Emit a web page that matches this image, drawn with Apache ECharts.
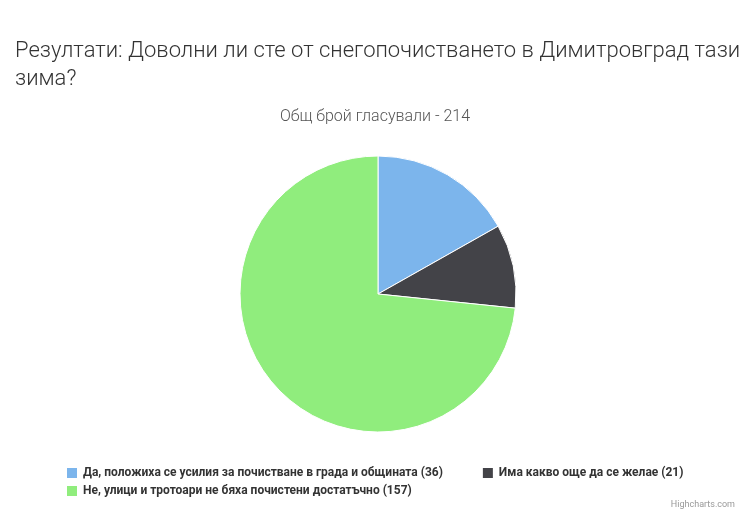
<!DOCTYPE html>
<html><head><meta charset="utf-8">
<script src="https://cdn.jsdelivr.net/npm/echarts@6/dist/echarts.min.js"></script>
<style>html,body{margin:0;padding:0;background:#fff}#c{width:750px;height:526px}</style>
</head><body><div id="c"></div>
<script>
const categories = ["Да, положиха се усилия за почистване в града и общината", "Има какво още да се желае", "Не, улици и тротоари не бяха почистени достатъчно"];
const values = [36, 21, 157];
const colors = ["#7cb5ec", "#434348", "#90ed7d"];
const chart = echarts.init(document.getElementById('c'));
const legendBase = {
  itemWidth: 12, itemHeight: 12, itemGap: 38, icon: 'rect',
  textStyle: {fontFamily: 'Roboto', fontWeight: 'bold', fontSize: 12, color: '#333'},
  formatter: function(n){ return n + ' (' + values[categories.indexOf(n)] + ')'; }
};
chart.setOption({
  animation: false,
  title: [
    {text: "Резултати: Доволни ли сте от снегопочистването в Димитровград тази\nзима?", left: 10, top: 32,
     textStyle: {fontFamily: 'Roboto', fontWeight: 300, fontSize: 22, color: '#333', lineHeight: 28}},
    {text: "Общ брой гласували - 214", left: 'center', top: 104,
     textStyle: {fontFamily: 'Roboto', fontWeight: 300, fontSize: 16, color: '#555'}},
    {text: "Highcharts.com", right: 10, bottom: 12, textStyle: {fontFamily: 'Roboto', fontWeight: 'normal', fontSize: 9, color: '#999'}}
  ],
  color: colors,
  legend: [
    Object.assign({left: 60, top: 461, data: [categories[0], categories[1]]}, legendBase),
    Object.assign({left: 60, top: 479, data: [categories[2]]}, legendBase)
  ],
  series: [{
    type: 'pie', center: [378, 294], radius: 138, startAngle: 90, clockwise: true,
    label: {show: false}, labelLine: {show: false},
    itemStyle: {borderColor: '#fff', borderWidth: 1},
    data: categories.map((c, i) => ({name: c, value: values[i]}))
  }]
});
</script></body></html>
